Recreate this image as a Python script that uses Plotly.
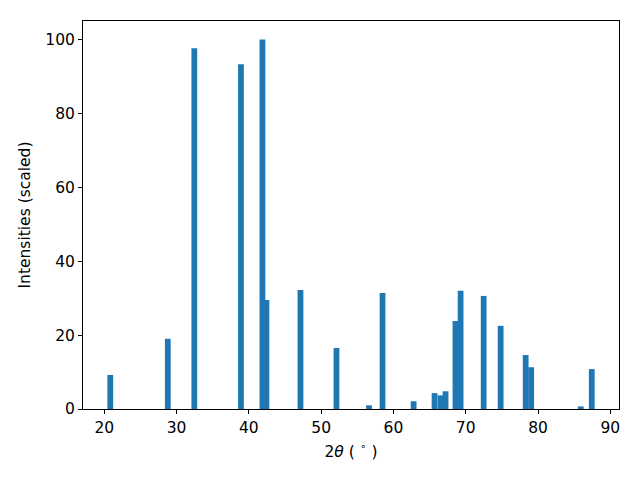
import plotly.graph_objects as go

two_theta = [20.83, 28.79, 32.46, 38.91, 41.88, 42.43, 47.14, 52.12, 56.62, 58.49,
             62.79, 65.69, 66.52, 67.21, 68.58, 69.29, 72.48, 74.83, 78.29, 79.05,
             85.91, 87.43]
intensity = [9.2, 19.0, 97.6, 93.3, 100.0, 29.5, 32.2, 16.5, 1.0, 31.4,
             2.1, 4.3, 3.7, 4.8, 23.8, 32.0, 30.6, 22.5, 14.6, 11.3,
             0.7, 10.8]
x_ticks = [20, 30, 40, 50, 60, 70, 80, 90]
y_ticks = [0, 20, 40, 60, 80, 100]

fig = go.Figure()
fig.add_trace(go.Bar(x=two_theta, y=intensity, width=0.8,
                     marker=dict(color="#1f77b4", line=dict(width=0))))

font = dict(family="DejaVu Sans", size=15.5, color="black")
axis_common = dict(showline=True, linecolor="black", linewidth=1, mirror=True,
                   ticks="outside", ticklen=4, tickwidth=1, tickcolor="black",
                   showgrid=False, zeroline=False, tickfont=font)

fig.update_layout(
    width=640, height=480,
    margin=dict(l=83, r=21, t=21, b=71),
    plot_bgcolor="white", paper_bgcolor="white",
    barmode="overlay", showlegend=False,
    font=font,
    xaxis=dict(range=[17.06, 91.2], tickvals=x_ticks,
               title=dict(text="2<i>θ</i> ( <sup>∘</sup> )", font=font, standoff=10),
               **axis_common),
    yaxis=dict(range=[0, 105], tickvals=y_ticks,
               title=dict(text="Intensities (scaled)", font=font, standoff=10),
               **axis_common),
)

fig.write_html("out.html", config={"displayModeBar": False},
               post_script="document.body.style.margin='0';document.body.style.padding='0';")
